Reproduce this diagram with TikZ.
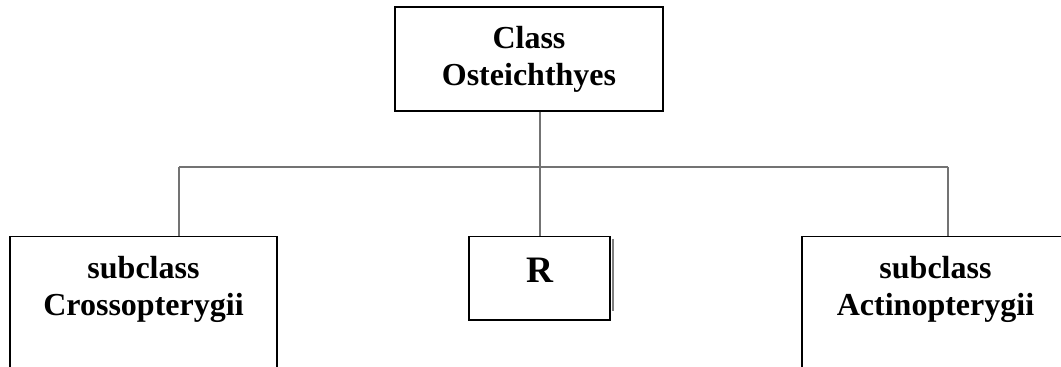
\documentclass[tikz,border=0pt]{standalone}
\usepackage{fontspec}
\setmainfont{Liberation Serif}
\begin{document}
\begin{tikzpicture}[x=0.75pt,y=-0.75pt,
    box/.style={draw,line width=1.1pt,align=center,
      font=\bfseries\fontsize{24}{27.6}\selectfont},
    link/.style={draw=black!55,line width=1pt}]
      \useasboundingbox (0,0) rectangle (1061,367);
      \clip (0,0) rectangle (1061,367);
      \node[box,minimum width=201pt,minimum height=78pt] (osteo) at (529,59) {Class\\Osteichthyes};
      \node[box,anchor=north,minimum width=200pt,inner ysep=15pt,text depth=100pt] (crosso) at (143.5,236) {subclass\\Crossopterygii};
      \node[box,anchor=north,minimum width=105.75pt,inner ysep=16pt,text depth=12pt,
        font=\bfseries\fontsize{28}{32}\selectfont] (r) at (539.5,236) {R};
      \node[box,anchor=north,minimum width=200pt,inner ysep=15pt,text depth=100pt] (actino) at (935.5,236) {subclass\\Actinopterygii};
      \coordinate (hub) at (540,167);
      \coordinate (left) at (179,167);
      \coordinate (right) at (948,167);
      \begin{scope}[link]
        \draw (osteo.south -| hub) to (hub);
        \draw (left) to (right);
        \draw (left) to (left |- crosso.north);
        \draw (hub) to (hub |- r.north);
        \draw (right) to (right |- actino.north);
      \end{scope}
      \draw[black!50,line width=1.5pt] ([xshift=2pt,yshift=-2pt]r.north east) to ([xshift=2pt,yshift=7pt]r.south east);
    \end{tikzpicture}
\end{document}
